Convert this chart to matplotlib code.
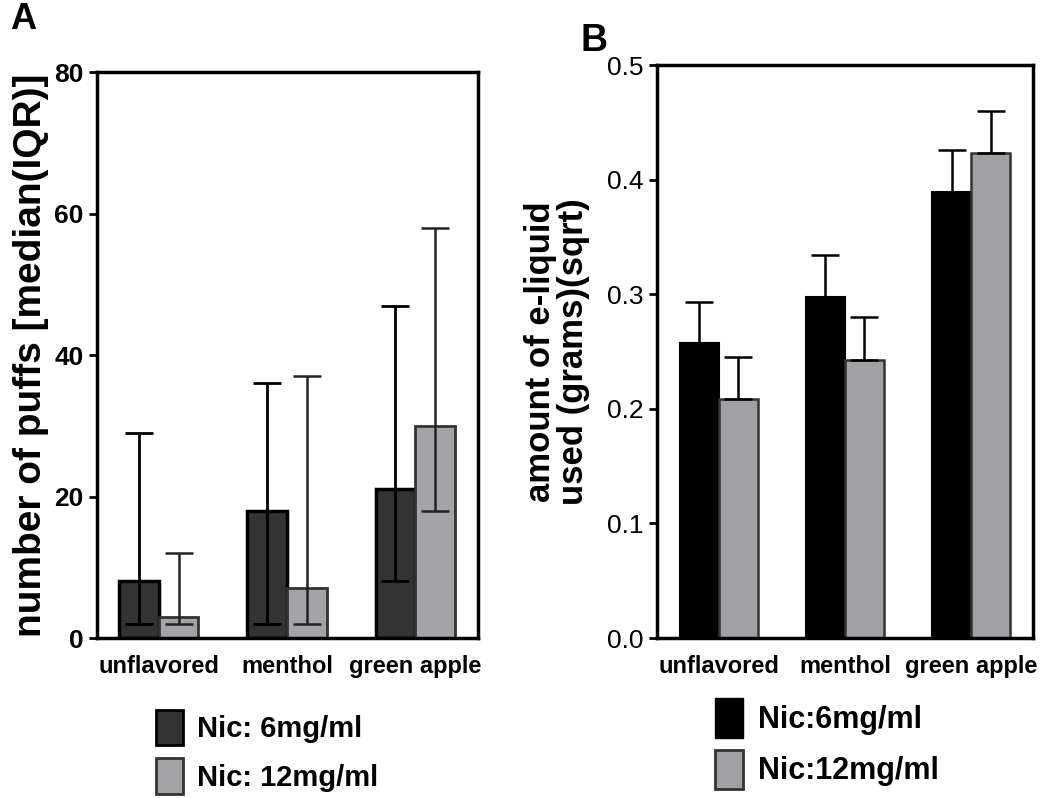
import matplotlib
matplotlib.use('Agg')
import matplotlib.pyplot as plt
import numpy as np
from matplotlib.patches import Patch

# Data
flavors = ['unflavored', 'menthol', 'green apple']

# Panel A: puffs median with IQR
puffs_6 = [8, 18, 21]
puffs_6_low = [2, 2, 8]
puffs_6_high = [29, 36, 47]
puffs_12 = [3, 7, 30]
puffs_12_low = [2, 2, 18]
puffs_12_high = [12, 37, 58]

# Panel B: e-liquid used (sqrt grams), mean + upper error
liquid_6 = [0.257, 0.298, 0.389]
liquid_6_err = [0.293, 0.334, 0.426]
liquid_12 = [0.209, 0.243, 0.423]
liquid_12_err = [0.245, 0.280, 0.460]

plt.rcParams['font.family'] = ['Liberation Sans', 'DejaVu Sans']

fig = plt.figure(figsize=(10.5, 7.98), dpi=100)
axA = fig.add_axes([0.0924, 0.2005, 0.363, 0.709])
axB = fig.add_axes([0.6257, 0.2005, 0.358, 0.718])

x = np.arange(len(flavors))
w = 0.31

# Panel A
dark_a = '#333333'
light_a = '#a3a3a8'
axA.bar(x - w / 2, puffs_6, w, color=dark_a, edgecolor='black', linewidth=2.5)
axA.bar(x + w / 2, puffs_12, w, color=light_a, edgecolor='#333333', linewidth=2)
err6 = [np.array(puffs_6) - np.array(puffs_6_low), np.array(puffs_6_high) - np.array(puffs_6)]
err12 = [np.array(puffs_12) - np.array(puffs_12_low), np.array(puffs_12_high) - np.array(puffs_12)]
axA.errorbar(x - w / 2, puffs_6, yerr=err6, fmt='none', ecolor='black',
             elinewidth=2, capsize=10, capthick=2)
axA.errorbar(x + w / 2, puffs_12, yerr=err12, fmt='none', ecolor='#222222',
             elinewidth=1.8, capsize=10, capthick=1.8)
axA.set_ylim(0, 80)
axA.set_xlim(-0.48, 2.49)
axA.set_yticks([0, 20, 40, 60, 80])
axA.set_ylabel('number of puffs [median(IQR)]', fontsize=28, fontweight='bold', labelpad=4)
for lab in axA.get_yticklabels():
    lab.set_fontweight('heavy')

# Panel B
gray_b = '#a0a0a5'
axB.bar(x - w / 2, liquid_6, w, color='black', edgecolor='black', linewidth=1.5)
axB.bar(x + w / 2, liquid_12, w, color=gray_b, edgecolor='#333333', linewidth=1.8)
errB6 = [np.zeros(3), np.array(liquid_6_err) - np.array(liquid_6)]
errB12 = [np.zeros(3), np.array(liquid_12_err) - np.array(liquid_12)]
axB.errorbar(x - w / 2, liquid_6, yerr=errB6, fmt='none', ecolor='black',
             elinewidth=1.8, capsize=10, capthick=1.8)
axB.errorbar(x + w / 2, liquid_12, yerr=errB12, fmt='none', ecolor='black',
             elinewidth=1.8, capsize=10, capthick=1.8)
axB.set_ylim(0, 0.5)
axB.set_xlim(-0.49, 2.49)
axB.set_yticks([0.0, 0.1, 0.2, 0.3, 0.4, 0.5])
axB.set_yticklabels(['0.0', '0.1', '0.2', '0.3', '0.4', '0.5'])
axB.set_ylabel('amount of e-liquid\nused (grams)(sqrt)', fontsize=25, fontweight='bold',
               labelpad=12, linespacing=1.0)

for ax in (axA, axB):
    ax.set_xticks(x)
    ax.set_xticklabels(flavors, fontsize=17, fontweight='bold')
    ax.tick_params(axis='x', length=0, pad=12)
    ax.tick_params(axis='y', labelsize=19, width=2, length=6)
    for sp in ax.spines.values():
        sp.set_linewidth(2.5)

# Panel letters
fig.text(0.01, 0.975, 'A', fontsize=26, fontweight='bold', va='center')
fig.text(0.553, 0.948, 'B', fontsize=27, fontweight='bold', va='center')

# Legends
hA = [Patch(facecolor=dark_a, edgecolor='black', linewidth=2),
      Patch(facecolor=light_a, edgecolor='#333333', linewidth=2)]
fig.legend(hA, ['Nic: 6mg/ml', 'Nic: 12mg/ml'], loc='center left',
           bbox_to_anchor=(0.124, 0.058), frameon=False,
           prop={'weight': 'bold', 'size': 21},
           handlelength=0.9, handleheight=1.5, handletextpad=0.5, labelspacing=0.45)

hB = [Patch(facecolor='black', edgecolor='black'),
      Patch(facecolor=gray_b, edgecolor='#333333', linewidth=2)]
fig.legend(hB, ['Nic:6mg/ml', 'Nic:12mg/ml'], loc='center left',
           bbox_to_anchor=(0.655, 0.068), frameon=False,
           prop={'weight': 'bold', 'size': 22},
           handlelength=0.9, handleheight=1.6, handletextpad=0.5, labelspacing=0.4)

fig.savefig('out.png', dpi=100)
